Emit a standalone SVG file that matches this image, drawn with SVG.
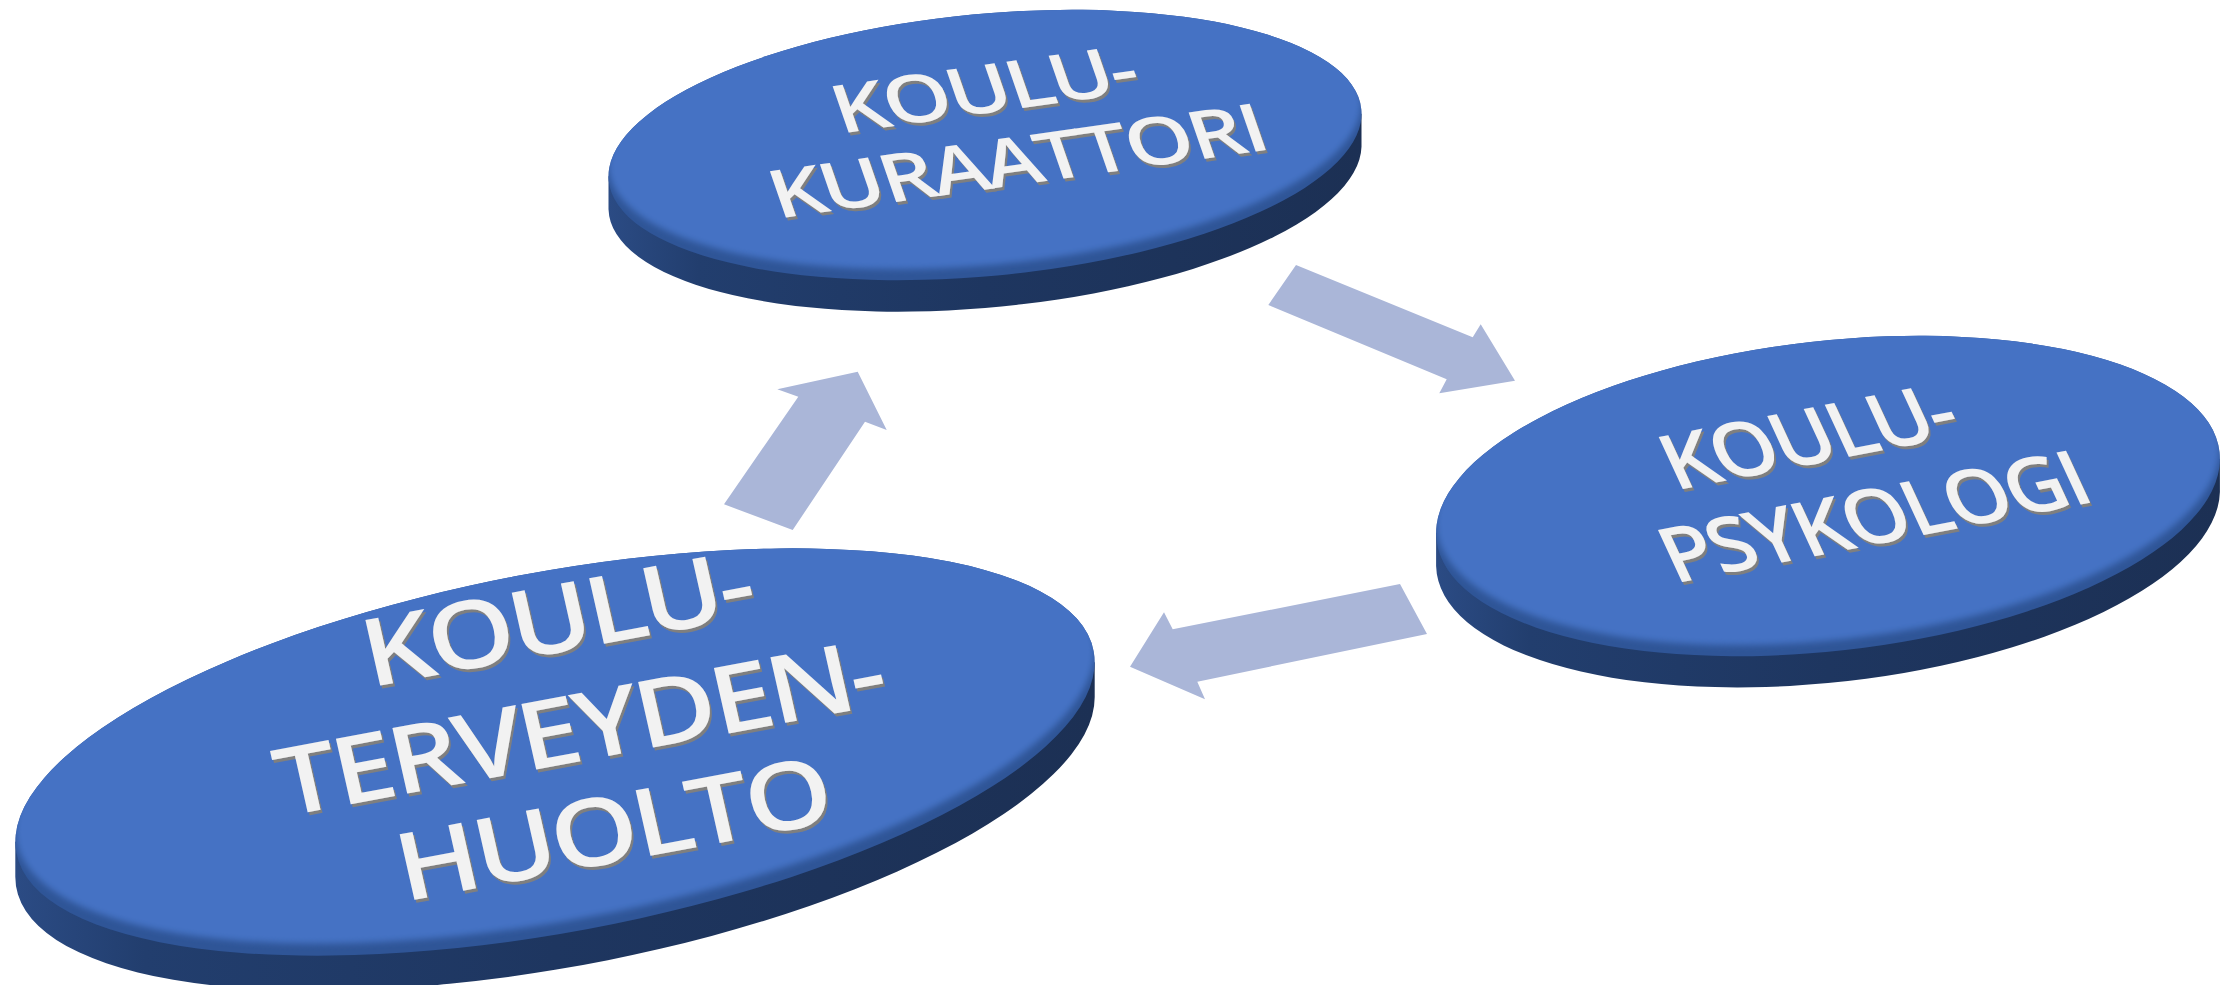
<svg xmlns="http://www.w3.org/2000/svg" width="2232" height="985" viewBox="0 0 2232 985">
  <style>
    .arrow { fill: #AAB6D8; }
    .side { fill: url(#sideGrad); }
    .bevel { fill: #2F5597; }
    .face { fill: #4472C4; }
    .lbl { font-family: "Open Sans", "Liberation Sans", sans-serif; font-weight: 600; letter-spacing: -0.04em; fill: #F2F2F2; text-anchor: middle; }
  </style>
  <defs>
    <linearGradient id="sideGrad" x1="0" y1="0" x2="1" y2="0">
      <stop offset="0" stop-color="#2B4B84"/>
      <stop offset="0.12" stop-color="#223E6E"/>
      <stop offset="0.5" stop-color="#1E3660"/>
      <stop offset="1" stop-color="#1C3054"/>
    </linearGradient>
    <filter id="soft" x="-10%" y="-20%" width="120%" height="140%">
      <feGaussianBlur stdDeviation="3"/>
    </filter>
    <filter id="tshadow" x="-5%" y="-10%" width="110%" height="120%">
      <feDropShadow dx="2" dy="3" stdDeviation="0.6" flood-color="#7F7F7F" flood-opacity="1"/>
    </filter>
    <clipPath id="clipA"><ellipse cx="985" cy="145" rx="378" ry="131" transform="rotate(-5.4 985 145)"/></clipPath>
    <clipPath id="clipB"><ellipse cx="1828" cy="496" rx="394" ry="155" transform="rotate(-6.4 1828 496)"/></clipPath>
    <clipPath id="clipC"><ellipse cx="555" cy="752" rx="548" ry="180" transform="rotate(-10.6 555 752)"/></clipPath>
  </defs>

  <rect x="0" y="0" width="2232" height="985" fill="#FFFFFF"/>

  <g id="connectors">
    <polygon class="arrow" points="1296,265 1472.7,337.3 1480.7,324.3 1515,380.7 1439.3,393.3 1446.7,379.3 1268.3,305"/>
    <polygon class="arrow" points="1400,584 1172.7,629.3 1164,612.3 1130,666.7 1205,699.3 1197.3,681.7 1427,634"/>
    <polygon class="arrow" points="857.7,371.7 886.7,430 865,421.7 792.7,530 724,504.3 798.3,396.7 777.3,389.3"/>
  </g>

  <g id="node-kuraattori">
    <path class="side" d="M608.5,176.3 L608.5,209.3 A378,131 -5.4 0 0 1361.5,146.7 L1361.5,113.7 Z"/>
    <ellipse class="bevel" cx="985" cy="145" rx="378" ry="131" transform="rotate(-5.4 985 145)"/>
    <g clip-path="url(#clipA)">
      <ellipse class="face" cx="985" cy="145" rx="378" ry="131" transform="translate(0,-11) rotate(-5.4 985 145)" filter="url(#soft)"/>
    </g>
    <g filter="url(#tshadow)">
      <text class="lbl" font-size="64" transform="matrix(1.3259,-0.1863,0.3504,1.0112,1024,184)">
        <tspan x="1" y="-72">KOULU-</tspan>
        <tspan x="0" y="0">KURAATTORI</tspan>
      </text>
    </g>
  </g>

  <g id="node-psykologi">
    <path class="side" d="M1436.1,533.1 L1436.1,566.1 A394,155 -6.4 0 0 2219.9,491.9 L2219.9,458.9 Z"/>
    <ellipse class="bevel" cx="1828" cy="496" rx="394" ry="155" transform="rotate(-6.4 1828 496)"/>
    <g clip-path="url(#clipB)">
      <ellipse class="face" cx="1828" cy="496" rx="394" ry="155" transform="translate(0,-11) rotate(-6.4 1828 496)" filter="url(#soft)"/>
    </g>
    <g filter="url(#tshadow)">
      <text class="lbl" font-size="78" transform="matrix(1.0393,-0.2020,0.4326,0.9342,1884.5,542.6)">
        <tspan x="-17" y="-91">KOULU-</tspan>
        <tspan x="0" y="0">PSYKOLOGI</tspan>
      </text>
    </g>
  </g>

  <g id="node-terveydenhuolto">
    <path class="side" d="M15.3,841.8 L15.3,876.8 A548,180 -10.6 0 0 1094.7,697.3 L1094.7,662.3 Z"/>
    <ellipse class="bevel" cx="555" cy="752" rx="548" ry="180" transform="rotate(-10.6 555 752)"/>
    <g clip-path="url(#clipC)">
      <ellipse class="face" cx="555" cy="752" rx="548" ry="180" transform="translate(0,-12) rotate(-10.6 555 752)" filter="url(#soft)"/>
    </g>
    <g filter="url(#tshadow)">
      <text class="lbl" font-size="88" transform="matrix(1.2406,-0.2322,0.2354,1.0433,571,763)">
        <tspan x="23" y="-104">KOULU-</tspan>
        <tspan x="21" y="0">TERVEYDEN-</tspan>
        <tspan x="20" y="99">HUOLTO</tspan>
      </text>
    </g>
  </g>
</svg>
